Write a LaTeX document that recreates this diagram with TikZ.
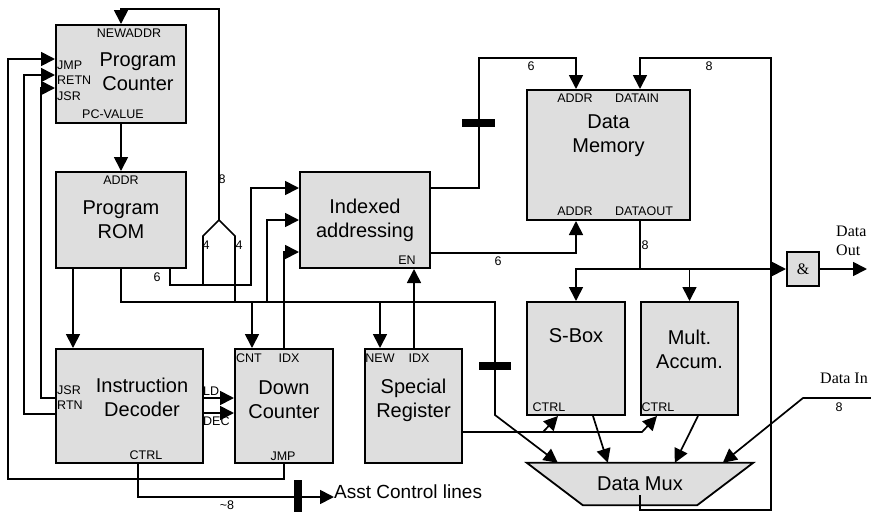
\documentclass[tikz,border=0pt]{standalone}
\usepackage{fontspec}
\setmainfont{Liberation Sans}
\newfontfamily\tmsfont{Liberation Serif}
\usepackage{tikz}
\usetikzlibrary{shapes,arrows.meta,backgrounds}
\definecolor{boxgray}{gray}{0.87}
\tikzstyle{blk} = [rectangle, draw=black, line width=2pt, fill=boxgray, inner sep=0pt, align=center, font=\fontsize{20}{24}\selectfont]
\tikzstyle{ttl} = [inner sep=0pt, align=center, font=\fontsize{20}{24}\selectfont]
\tikzstyle{lbl} = [inner sep=0pt, font=\fontsize{12.5}{14}\selectfont]
\tikzstyle{tms} = [inner sep=0pt, align=left, font=\tmsfont\fontsize{16}{19}\selectfont]
\tikzstyle{ln} = [line width=1.7pt]
\tikzstyle{arr} = [ln, -{Triangle[length=14pt,width=14pt]}]
\tikzstyle{busmark} = [line width=8pt]

\begin{document}
\begin{tikzpicture}[x=1pt,y=-1pt,node distance=146pt]
		\useasboundingbox (0,0) rectangle (871,512);
		\node[blk,minimum width=130pt,minimum height=98pt](1) at (121,74){};
		\node[ttl](1t) at ([xshift=17pt,yshift=2pt]1.center){Program\\Counter};
		\node[blk,minimum width=130pt,minimum height=96pt,below of=1](2){Program\\ROM};
		\node[blk,minimum width=130pt,minimum height=96pt,right of=2,xshift=98pt](3){Indexed\\addressing};
		\node[blk,minimum width=147pt,minimum height=114pt,below of=2,xshift=8.5pt,yshift=-40pt](4){};
		\node[ttl](4t) at ([xshift=12.5pt,yshift=9pt]4.center){Instruction\\Decoder};
		\node[blk,minimum width=98pt,minimum height=114pt,right of=4,xshift=8.5pt](5){};
		\node[ttl](5t) at ([yshift=6pt]5.center){Down\\Counter};
		\node[blk,minimum width=97pt,minimum height=114pt,right of=5,xshift=-16.5pt](6){};
		\node[ttl](6t) at ([yshift=6pt]6.center){Special\\Register};
		\node[blk,minimum width=163pt,minimum height=130pt,right of=3,xshift=97.5pt,yshift=65pt](7){};
		\node[ttl](7t) at ([yshift=19pt]7.center){Data\\Memory};
		\node[blk,minimum width=98pt,minimum height=113pt,right of=6,xshift=16.5pt,yshift=47.5pt](8){};
		\node[ttl](8t) at ([yshift=22.5pt]8.center){S-Box};
		\node[blk,minimum width=97pt,minimum height=113pt,right of=8,xshift=-32.5pt](9){};
		\node[ttl](9t) at ([yshift=9.5pt]9.center){Mult.\\Accum.};
		\node[blk,minimum width=32pt,minimum height=34pt,font=\tmsfont\fontsize{16}{18}\selectfont,right of=9,xshift=-32.5pt,yshift=89.5pt](10){\&};
		\node[ttl,minimum width=226pt,minimum height=42pt,below of=8,xshift=64pt,yshift=20.5pt](11){Data Mux};
		\begin{scope}[on background layer]
		\draw[line width=1.8pt,fill=boxgray] (11.north west)--(11.north east)--([xshift=-56pt]11.south east)--([xshift=56pt]11.south west)--cycle;
		\end{scope}
		% port labels
		\node[lbl](1a) at (129,33){NEWADDR};
		\node[lbl,anchor=west](1b) at (57,65){JMP};
		\node[lbl,anchor=west](1c) at (57,80){RETN};
		\node[lbl,anchor=west](1d) at (57,96){JSR};
		\node[lbl](1e) at (113,114){PC-VALUE};
		\node[lbl](2a) at (121,180){ADDR};
		\node[lbl](3a) at (407,260){EN};
		\node[lbl,anchor=west](4a) at (57,390){JSR};
		\node[lbl,anchor=west](4b) at (57,405){RTN};
		\node[lbl](4c) at (146,455){CTRL};
		\node[lbl,anchor=west](4d) at (203,391){LD};
		\node[lbl,anchor=west](4e) at (203,421){DEC};
		\node[lbl](5a) at (249,358){CNT};
		\node[lbl](5b) at (289,358){IDX};
		\node[lbl](5c) at (283,456){JMP};
		\node[lbl](6a) at (380,358){NEW};
		\node[lbl](6b) at (419,358){IDX};
		\node[lbl](7a) at (575,98){ADDR};
		\node[lbl](7b) at (637,98){DATAIN};
		\node[lbl](7c) at (575,211){ADDR};
		\node[lbl](7d) at (644,211){DATAOUT};
		\node[lbl](8a) at (549,407){CTRL};
		\node[lbl](9a) at (658,407){CTRL};
		% bus widths
		\node[lbl](w1) at (222,179){8};
		\node[lbl](w2) at (206,245){4};
		\node[lbl](w3) at (239,245){4};
		\node[lbl](w4) at (157,277){6};
		\node[lbl](w5) at (531,66){6};
		\node[lbl](w6) at (709,66){8};
		\node[lbl](w7) at (498,261){6};
		\node[lbl](w8) at (645,245){8};
		\node[lbl](w9) at (227,505){\textasciitilde8};
		\node[lbl](w10) at (839,407){8};
		\node[tms,anchor=west](10a) at (836,241){Data\\Out};
		\node[tms](11a) at (844,378){Data In};
		\node[inner sep=0pt,anchor=base west,font=\fontsize{19}{22}\selectfont](12) at (334,498){Asst Control lines};
		\coordinate (fk) at (219,220);
		\coordinate (dout) at (867,269);
		\coordinate (din) at (871,398);
		% program counter loop
		\draw[arr] (fk)--(219,9)-|(1.north);
		\draw[ln] (203,285)--(203,236)--(fk)--(235,236)--(235,302);
		\draw[arr] (1.south)--(2.north);
		\draw[arr] (2.south-|73,0)--(4.north-|73,0);
		\draw[arr] (4.west|-0,398)-|(41,88)--(1.west|-0,88);
		\draw[arr] (4.west|-0,414)-|(24,75)--(1.west|-0,75);
		\draw[arr] (5.south)|-(8,479)|-(1.west|-0,59);
		\draw[arr] (4.east|-0,398)--(5.west|-0,398);
		\draw[arr] (4.east|-0,413)--(5.west|-0,413);
		\draw[arr] (4.south-|138,0)|-(12.west|-0,497);
		\draw[busmark] (298,480)--(298,512);
		% index bus
		\draw[arr] (2.south-|170,0)|-(251,285)|-(3.west|-0,188);
		\draw[arr] (2.south)|-(495,302)--(495,415)--([xshift=31pt]11.north west);
		\draw[busmark] (479,366)--(511,366);
		\draw[arr] (267,302)|-(3.west);
		\draw[arr] (252,302)--(5.north-|252,0);
		\draw[arr] (380,302)--(6.north-|380,0);
		\draw[arr] (5.north)|-(3.west|-0,252);
		\draw[arr] (6.north-|414,0)--(3.south-|414,0);
		% data memory
		\draw[arr] (3.east|-0,188)-|(479,58)-|(7.north-|576,0);
		\draw[busmark] (462,123)--(495,123);
		\draw[arr] (3.east|-0,253)-|(7.south-|576,0);
		\draw[arr] ([yshift=-11pt]11.center)--(640,510)-|(771,58)-|(7.north-|640,0);
		\draw[arr] (7.south-|640,0)|-(10.west);
		\draw[arr] (640,269)-|(8.north);
		\draw[arr] (9.north|-0,269)--(9.north);
		\draw[arr] (10.east)--(dout);
		% data mux
		\draw[arr] (din)--(803,398)--([xshift=196pt]11.north west);
		\draw[arr] (8.south-|593,0)--([xshift=81pt]11.north west);
		\draw[arr] (9.south-|698,0)--([xshift=148pt]11.north west);
		\draw[arr] (6.east|-0,432)--(642,432)--(9.south-|657,0);
		\draw[arr] (543,432)--(8.south-|558,0);
		\end{tikzpicture}
\end{document}
